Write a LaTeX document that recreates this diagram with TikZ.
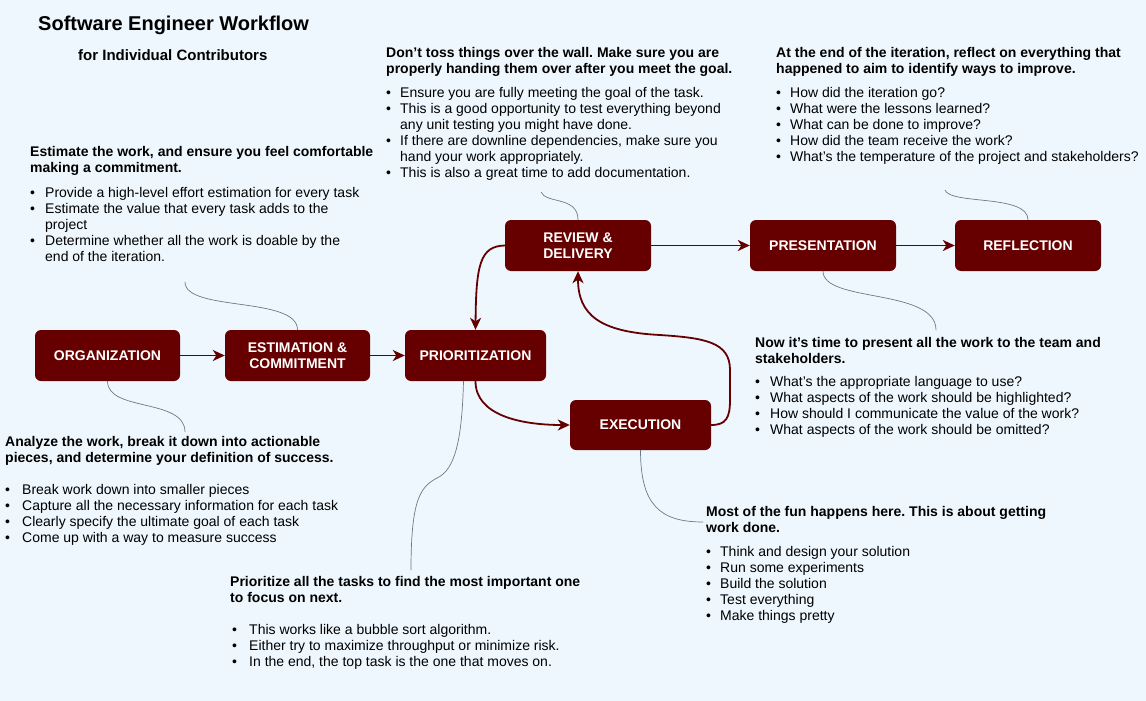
\documentclass[tikz,border=0pt]{standalone}
\usepackage{fontspec}
\setmainfont{Liberation Sans}
\usetikzlibrary{arrows.meta}
\definecolor{bgc}{HTML}{EEF7FD}
\definecolor{dred}{HTML}{660000}
\definecolor{gline}{HTML}{6B7A88}
\newcommand\bi[2]{\makebox[#1][l]{•}#2}
\newcommand\bc[2]{\hspace*{#1}#2}
\newcommand\st{\rule{0pt}{14pt}}
\frenchspacing
\begin{document}
\frenchspacing
\begin{tikzpicture}[x=1pt,y=-1pt,
  box/.style={rectangle, rounded corners=6pt, fill=dred, text=white,
    font=\fontsize{14}{16}\selectfont\bfseries, align=center, inner sep=0pt,
    minimum height=51pt, minimum width=145pt},
  flow/.style={draw=dred, line width=1.8pt, -{Stealth[length=12pt,width=11pt,inset=3.5pt]}},
  note/.style={draw=gline, line width=0.7pt},
  txt/.style={anchor=north west, inner sep=0pt, align=left, font=\fontsize{14}{16}\selectfont\frenchspacing}]
\useasboundingbox (0,0) rectangle (1146,701);
\fill[bgc] (0,0) rectangle (1146,701);

% titles
\node[anchor=base west, inner sep=0pt, font=\fontsize{20}{24}\selectfont\bfseries] (title) at (38,31) {Software Engineer Workflow};
\node[anchor=base west, inner sep=0pt, font=\fontsize{15}{18}\selectfont\bfseries] (subtitle) at (78,60.5) {for Individual Contributors};

% process nodes
\node[box] (org) at (107.5,355.5) {ORGANIZATION};
\node[box] (est) at (297.5,355.5) {ESTIMATION \&\\COMMITMENT};
\node[box, minimum width=141pt] (prio) at (475.5,355.5) {PRIORITIZATION};
\node[box, minimum width=146pt] (rev) at (578,245.5) {REVIEW \&\\DELIVERY};
\node[box, minimum width=141pt, minimum height=50pt] (exec) at (640.5,425) {EXECUTION};
\node[box, minimum width=146pt] (pres) at (823,245.5) {PRESENTATION};
\node[box, minimum width=146pt] (refl) at (1028,245.5) {REFLECTION};

% flow connectors
\draw[flow] (org.east) -- (est.west);
\draw[flow] (est.east) -- (prio.west);
\draw[flow] (rev.east) -- (pres.west);
\draw[flow] (pres.east) -- (refl.west);
\draw[flow] (prio.south) .. controls (475.5,415) and (520,425) .. (exec.west);
\draw[flow] (exec.east) .. controls (726,425) and (730,418) .. (730,400) -- (730,370)
  .. controls (730,342) and (705,338) .. (660,335)
  .. controls (600,332) and (578,315) .. (rev.south);
\draw[flow] (rev.west) .. controls (480,246) and (476,265) .. (prio.north);

% note connectors
\coordinate (nOrg) at (185,432);
\draw[note] (org.south) .. controls (107.5,412) and (185,398) .. (nOrg);
\coordinate (nEst) at (185,282);
\draw[note] (nEst) .. controls (185,312) and (297.5,296) .. (est.north);
\coordinate (nPrio) at (411,570);
\draw[note] ([xshift=-12pt]prio.south) .. controls (462,440) and (455,470) .. (437,478)
  .. controls (420,487) and (411,500) .. (nPrio);
\coordinate (nExec) at (703,522);
\draw[note] (exec.south) .. controls (640.5,505) and (660,522) .. (nExec);
\coordinate (nRev) at (541,192);
\draw[note] (nRev) .. controls (546,204) and (578,196) .. (rev.north);
\coordinate (nPres) at (936,330);
\draw[note] (pres.south) .. controls (823,303) and (936,288) .. (nPres);
\coordinate (nRefl) at (945,190);
\draw[note] (nRefl) .. controls (950,205) and (1028,194) .. (refl.north);

% text blocks
\node[txt] (tEst) at (30,142.5) {\st\textbf{Estimate the work, and ensure you feel comfortable}\\
\textbf{making a commitment.}\\[8.5pt]
\bi{15pt}{Provide a high-level effort estimation for every task}\\
\bi{15pt}{Estimate the value that every task adds to the}\\
\bc{15pt}{project}\\
\bi{15pt}{Determine whether all the work is doable by the}\\
\bc{15pt}{end of the iteration.}};

\node[txt] (tRev) at (386,43) {\st\textbf{Don't toss things over the wall. Make sure you are}\\
\textbf{properly handing them over after you meet the goal.}\\[8.5pt]
\bi{14pt}{Ensure you are fully meeting the goal of the task.}\\
\bi{14pt}{This is a good opportunity to test everything beyond}\\
\bc{14pt}{any unit testing you might have done.}\\
\bi{14pt}{If there are downline dependencies, make sure you}\\
\bc{14pt}{hand your work appropriately.}\\
\bi{14pt}{This is also a great time to add documentation.}};

\node[txt] (tRefl) at (776,43) {\st\textbf{At the end of the iteration, reflect on everything that}\\
\textbf{happened to aim to identify ways to improve.}\\[8.5pt]
\bi{14pt}{How did the iteration go?}\\
\bi{14pt}{What were the lessons learned?}\\
\bi{14pt}{What can be done to improve?}\\
\bi{14pt}{How did the team receive the work?}\\
\bi{14pt}{What's the temperature of the project and stakeholders?}};

\node[txt] (tOrg) at (5,432) {\st\textbf{Analyze the work, break it down into actionable}\\
\textbf{pieces, and determine your definition of success.}\\[16.5pt]
\bi{17pt}{Break work down into smaller pieces}\\
\bi{17pt}{Capture all the necessary information for each task}\\
\bi{17pt}{Clearly specify the ultimate goal of each task}\\
\bi{17pt}{Come up with a way to measure success}};

\node[txt] (tPrio) at (230,572) {\st\textbf{Prioritize all the tasks to find the most important one}\\
\textbf{to focus on next.}\\[16.5pt]
\hspace*{2pt}\bi{17pt}{This works like a bubble sort algorithm.}\\
\hspace*{2pt}\bi{17pt}{Either try to maximize throughput or minimize risk.}\\
\hspace*{2pt}\bi{17pt}{In the end, the top task is the one that moves on.}};

\node[txt] (tPres) at (755,333) {\st\textbf{Now it's time to present all the work to the team and}\\
\textbf{stakeholders.}\\[7.5pt]
\bi{15pt}{What's the appropriate language to use?}\\
\bi{15pt}{What aspects of the work should be highlighted?}\\
\bi{15pt}{How should I communicate the value of the work?}\\
\bi{15pt}{What aspects of the work should be omitted?}};

\node[txt] (tExec) at (706,502.5) {\st\textbf{Most of the fun happens here. This is about getting}\\
\textbf{work done.}\\[8pt]
\bi{14pt}{Think and design your solution}\\
\bi{14pt}{Run some experiments}\\
\bi{14pt}{Build the solution}\\
\bi{14pt}{Test everything}\\
\bi{14pt}{Make things pretty}};
\end{tikzpicture}
\end{document}
